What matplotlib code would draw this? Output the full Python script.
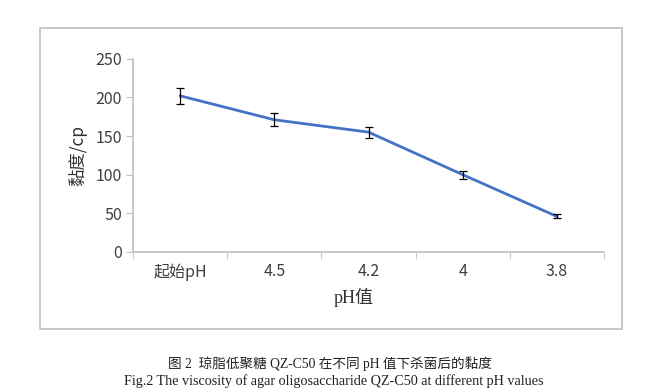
import matplotlib
matplotlib.use("Agg")
import matplotlib.pyplot as plt
from matplotlib.patches import Rectangle

categories = ["起始pH", "4.5", "4.2", "4", "3.8"]
viscosity = [202, 171, 155, 100, 46]
errors = [10, 8.5, 7, 5, 2.5]
y_ticks = [0, 50, 100, 150, 200, 250]

plt.rcParams['font.family'] = ['Noto Sans CJK SC', 'DejaVu Sans']

fig = plt.figure(figsize=(6.61, 3.91), dpi=100)
fig.patch.set_facecolor('white')

# outer chart frame
fig.patches.append(Rectangle((0.0605, 0.1586), 0.8805, 0.7698, transform=fig.transFigure,
                             fill=False, edgecolor='#BFBFBF', linewidth=1.2))

ax = fig.add_axes([0.2012, 0.3555, 0.7126, 0.4944])
x = list(range(len(categories)))
ax.plot(x, viscosity, color='#4472C4', linewidth=2.0, zorder=3,
        solid_capstyle='round', solid_joinstyle='round')
ax.errorbar(x, viscosity, yerr=errors, fmt='none', ecolor='black', elinewidth=0.9,
            capsize=2.6, capthick=0.9, zorder=4)

ax.set_xlim(-0.5, len(categories) - 0.5)
ax.set_ylim(0, 250)
ax.set_yticks(y_ticks)
ax.set_yticklabels([str(v) for v in y_ticks], fontsize=11.5, color='#404040')
ax.set_xticks(x)
ax.set_xticklabels(categories, fontsize=11.5, color='#404040')
ax.set_xticks([i - 0.5 for i in range(len(categories) + 1)], minor=True)
ax.tick_params(axis='x', which='major', length=0, pad=8)
ax.tick_params(axis='x', which='minor', length=5, color='#BFBFBF', direction='out')
ax.tick_params(axis='y', length=5, color='#BFBFBF', direction='out', pad=3)

for s in ['top', 'right']:
    ax.spines[s].set_visible(False)
for s in ['left', 'bottom']:
    ax.spines[s].set_color('#BFBFBF')
    ax.spines[s].set_linewidth(1.2)

ax.set_ylabel('黏度/cp', fontsize=12.5, color='#333333', labelpad=6)
ax.set_xlabel('pH值', fontsize=13, color='#333333', labelpad=6,
              family=['Liberation Serif', 'Noto Sans CJK SC'])
ax.xaxis.set_label_coords(0.469, -0.185)

fig.text(0.4985, 1 - 364 / 391, '图 2  琼脂低聚糖 QZ-C50 在不同 pH 值下杀菌后的黏度',
         ha='center', va='center', fontsize=9.8, color='#222222',
         family=['Liberation Serif', 'Noto Sans CJK SC'])
fig.text(0.5045, 1 - 381 / 391, 'Fig.2 The viscosity of agar oligosaccharide QZ-C50 at different pH values',
         ha='center', va='center', fontsize=10.2, color='#222222',
         family=['Liberation Serif'])

fig.savefig('out.png', dpi=100)
